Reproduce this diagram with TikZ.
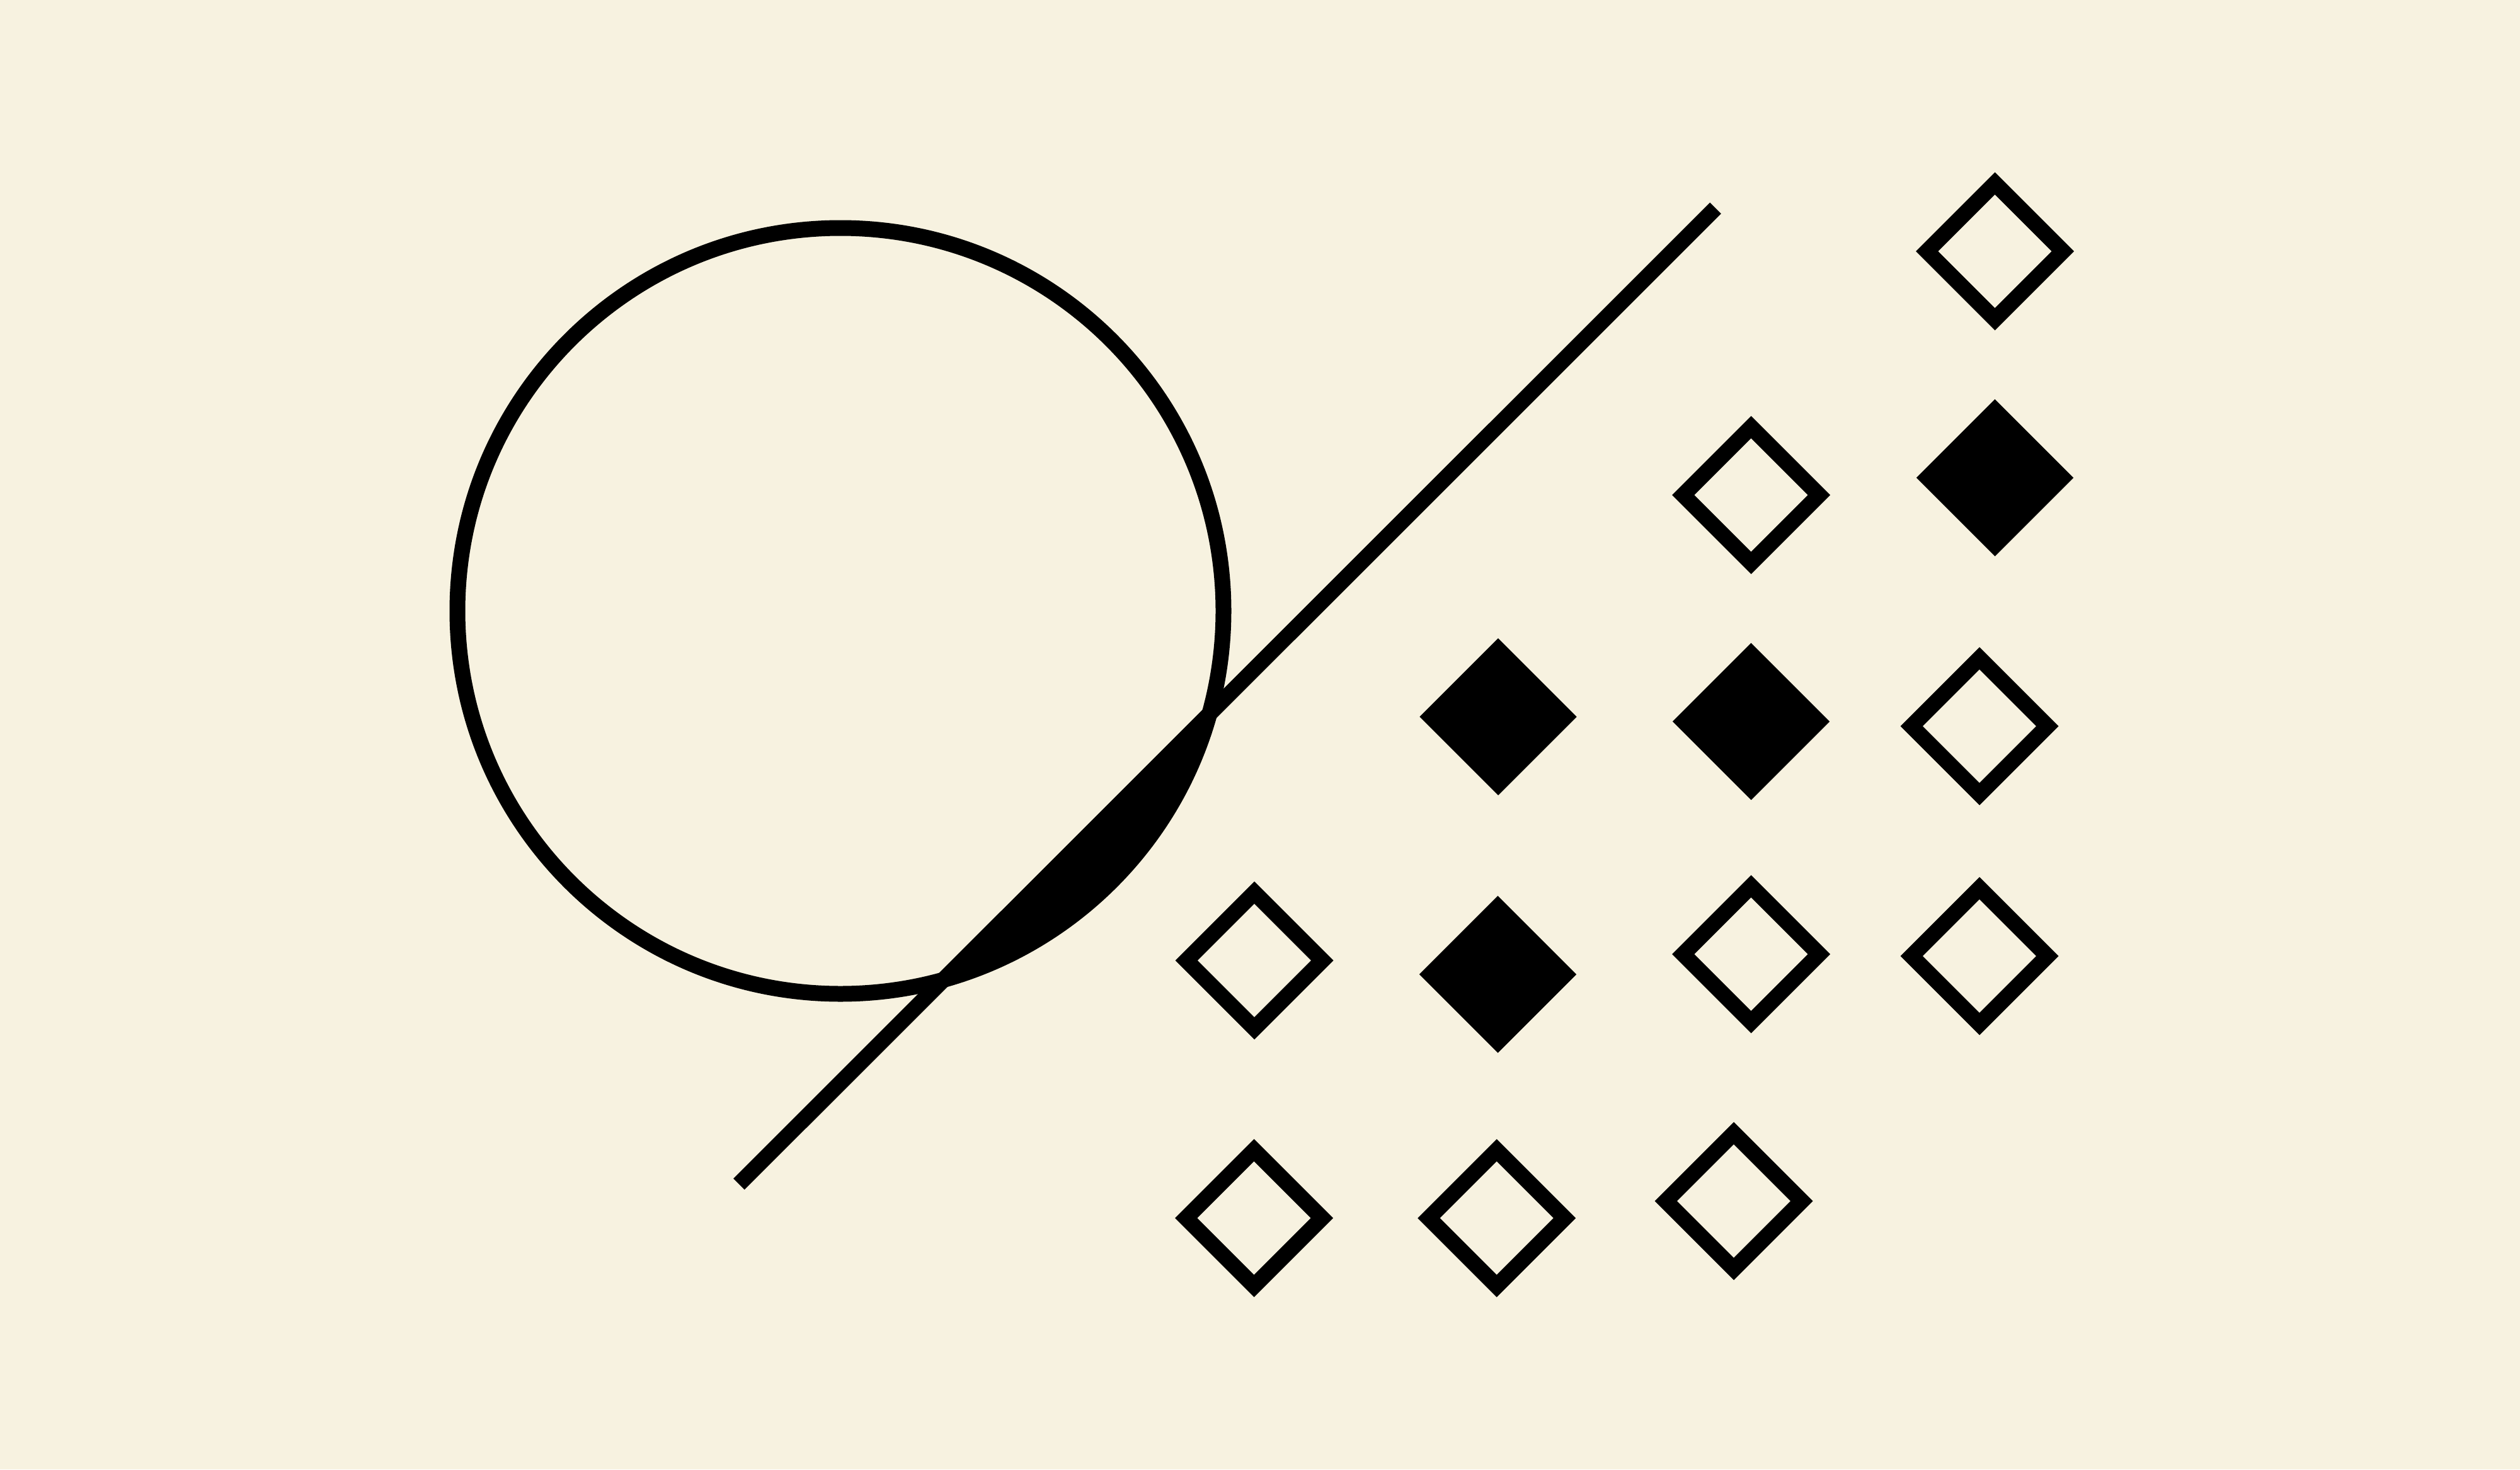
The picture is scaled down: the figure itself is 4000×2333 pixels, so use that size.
\documentclass[tikz,border=0pt]{standalone}
\usepackage{xcolor}
\usepackage{tikz}
\usetikzlibrary{shapes.geometric,positioning}

\definecolor{carta}{RGB}{247,242,224}

\begin{document}
\begin{tikzpicture}[x=0.1mm, y=-0.1mm]
    % Stili
    \tikzstyle{tratto}=[line width=2.5mm]
    \tikzstyle{hollow}=[diamond, draw=black, line width=2.5mm, inner sep=0pt, minimum size=22.6mm]
    \tikzstyle{filled}=[diamond, fill=black, inner sep=0pt, minimum size=25mm]

    % Sfondo
    \fill[carta] (0,0) rectangle (4000,2333);
    \useasboundingbox (0,0) rectangle (4000,2333);

    % Cerchio e retta
    \coordinate (centro) at (1334,970);
    \coordinate (rettaA) at (1173,1880);
    \coordinate (rettaB) at (2723,330.5);
    \begin{scope}
        \clip (centro) circle[radius=60.8mm];
        \fill[black] (rettaA) -- (rettaB) -- (4000,2333) -- cycle;
    \end{scope}
    \draw[tratto] (centro) circle[radius=60.8mm];
    \draw[tratto] (rettaA) -- (rettaB);

    % Rombi
    \node (r1c4) [hollow] at (3166.5,399) {};
    \node (r2c3) [hollow] at (2779.5,786) {};
    \node (r2c4) [filled] at (3166.5,758.5) {};
    \node (r3c2) [filled] at (2378,1138) {};
    \node (r3c3) [filled] at (2779.5,1145.5) {};
    \node (r3c4) [hollow] at (3142,1153) {};
    \node (r4c1) [hollow] at (1991,1525) {};
    \node (r4c2) [filled] at (2377.5,1547) {};
    \node (r4c3) [hollow] at (2779.5,1515) {};
    \node (r4c4) [hollow] at (3142,1518) {};
    \node (r5c1) [hollow] at (1990.5,1934) {};
    \node (r5c2) [hollow] at (2375.7,1934) {};
    \node (r5c3) [hollow] at (2752,1907) {};
\end{tikzpicture}
\end{document}
